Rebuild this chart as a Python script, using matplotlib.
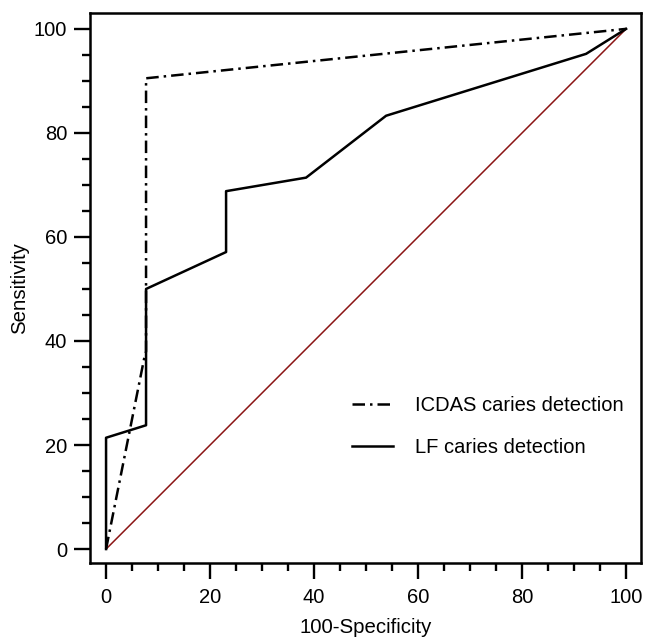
import matplotlib
matplotlib.use("Agg")
import matplotlib.pyplot as plt
from matplotlib.ticker import MultipleLocator

plt.rcParams['font.family'] = ['Liberation Sans', 'DejaVu Sans']

# Data
lf_x = [0, 0, 7.69, 7.69, 23.08, 23.08, 38.46, 53.85, 92.31, 100]
lf_y = [0, 21.4, 23.8, 50.0, 57.1, 68.8, 71.4, 83.3, 95.2, 100]
icdas_x = [0, 7.3, 7.69, 7.69, 100]
icdas_y = [0, 36.5, 38.0, 90.5, 100]
ref_x = [0, 100]
ref_y = [0, 100]
labels = ["ICDAS caries detection", "LF caries detection"]

fig = plt.figure(figsize=(6.47, 6.37), dpi=100)
ax = fig.add_axes([0.139, 0.116, 0.852, 0.864])

ax.plot(ref_x, ref_y, color='#8b1414', lw=1.1, zorder=1)
ax.plot(icdas_x, icdas_y, color='black', lw=1.8, linestyle=(0, (5, 2, 1, 2)), label=labels[0], zorder=2)
ax.plot(lf_x, lf_y, color='black', lw=1.8, label=labels[1], zorder=3)

ax.set_xlim(-3.1, 102.9)
ax.set_ylim(-2.7, 103.1)
ax.xaxis.set_major_locator(MultipleLocator(20))
ax.xaxis.set_minor_locator(MultipleLocator(5))
ax.yaxis.set_major_locator(MultipleLocator(20))
ax.yaxis.set_minor_locator(MultipleLocator(5))

for s in ax.spines.values():
    s.set_linewidth(1.8)
ax.tick_params(which='major', direction='out', length=11.5, width=1.7, labelsize=14.5)
ax.tick_params(axis='x', which='major', pad=6.5)
ax.tick_params(axis='y', which='major', pad=5)
ax.tick_params(which='minor', direction='out', length=6, width=1.7)

ax.set_xlabel("100-Specificity", fontsize=14.7, labelpad=7.5)
ax.set_ylabel("Sensitivity", fontsize=14.7, labelpad=3)

ax.legend(loc='center left', bbox_to_anchor=(0.443, 0.248), frameon=False, fontsize=14.5,
          handlelength=2.0, handletextpad=1.1, labelspacing=1.15)

fig.savefig("out.png", dpi=100)
